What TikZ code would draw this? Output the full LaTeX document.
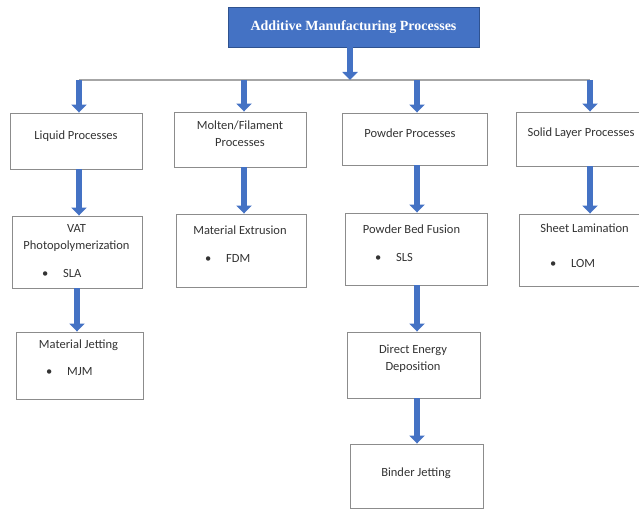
\documentclass[tikz,border=0pt]{standalone}
\usepackage{fontspec}
\setmainfont{Carlito}
\newfontfamily\titlefont{Liberation Serif}
\usetikzlibrary{arrows.meta}
\definecolor{amblue}{HTML}{4472C4}
\definecolor{amdark}{HTML}{2F528F}
\definecolor{boxgray}{HTML}{8C8C8C}
\definecolor{linegray}{HTML}{A6A6A6}

\begin{document}
\begin{tikzpicture}[x=1pt, y=-1pt]
  \tikzset{
    box/.style={draw=boxgray, line width=0.9pt, fill=white, inner sep=0pt},
    txt/.style={font=\fontsize{12.5}{17}\selectfont, text=black!80, align=center, inner sep=0pt},
    item/.style={txt, anchor=mid west},
    arr/.style={draw=amblue, line width=6.5pt, -{Triangle[width=15pt, length=8pt]}}
  }
  \useasboundingbox (0,0) rectangle (639,510);
  \clip (0,0) rectangle (639,510);

  % Kop
  \node[box, fill=amblue, draw=amdark, minimum width=251, minimum height=40, text=white,
        font=\titlefont\fontsize{14}{16}\selectfont\bfseries] (am) at (353.5,27) {Additive Manufacturing Processes};

  % Verdeellijn
  \coordinate (hub) at (350,80);
  \coordinate (c1) at (79,80);
  \coordinate (c2) at (244,80);
  \coordinate (c3) at (417,80);
  \coordinate (c4) at (590,80);
  \draw[linegray, line width=1.2pt] (c1) -- (c4);
  \draw[arr] (am.south -| hub) -- (hub);

  % Eerste rij
  \node[box, minimum width=132, minimum height=56] (liq) at (76,141) {};
  \node[txt] (liqt) at (76,136) {Liquid Processes};
  \node[box, minimum width=132, minimum height=55] (mol) at (240,139.5) {};
  \node[txt] (molt) at (240,133.5) {Molten/Filament\\Processes};
  \node[box, minimum width=145, minimum height=52] (pow) at (414.5,139) {};
  \node[txt] (powt) at (410,133) {Powder Processes};
  \node[box, minimum width=132, minimum height=54] (sol) at (582,139) {};
  \node[txt] (solt) at (581,133) {Solid Layer Processes};

  \draw[arr] (c1) -- (c1 |- liq.north);
  \draw[arr] (c2) -- (c2 |- mol.north);
  \draw[arr] (c3) -- (c3 |- pow.north);
  \draw[arr] (c4) -- (c4 |- sol.north);

  % Tweede rij
  \node[box, minimum width=130, minimum height=72] (vat) at (77,252) {};
  \node[txt] (vatt) at (76.5,238) {VAT\\Photopolymerization};
  \node[item] (vatb) at (42,275) {\makebox[21pt][l]{•}SLA};
  \node[box, minimum width=130, minimum height=73] (me) at (241,250.5) {};
  \node[txt] (met) at (240,230) {Material Extrusion};
  \node[item] (meb) at (205,260) {\makebox[21pt][l]{•}FDM};
  \node[box, minimum width=142, minimum height=72] (pbf) at (416,249) {};
  \node[txt] (pbft) at (411.5,229) {Powder Bed Fusion};
  \node[item] (pbfb) at (375,259) {\makebox[21pt][l]{•}SLS};
  \node[box, minimum width=132, minimum height=72] (sl) at (585,250) {};
  \node[txt] (slt) at (584.5,228) {Sheet Lamination};
  \node[item] (slb) at (550,265) {\makebox[21pt][l]{•}LOM};

  \draw[arr] (c1 |- liq.south) -- (c1 |- vat.north);
  \draw[arr] (c2 |- mol.south) -- (c2 |- me.north);
  \draw[arr] (c3 |- pow.south) -- (c3 |- pbf.north);
  \draw[arr] (c4 |- sol.south) -- (c4 |- sl.north);

  % Derde en vierde rij
  \node[box, minimum width=127, minimum height=67] (mj) at (79.5,365.5) {};
  \node[txt] (mjt) at (78.5,345) {Material Jetting};
  \node[item] (mjb) at (46,373) {\makebox[21pt][l]{•}MJM};
  \node[box, minimum width=133, minimum height=66] (ded) at (413.5,365) {};
  \node[txt] (dedt) at (413,358.5) {Direct Energy\\Deposition};
  \node[box, minimum width=133, minimum height=64] (bj) at (416.5,476) {};
  \node[txt] (bjt) at (416,473) {Binder Jetting};

  \draw[arr] (vat.south) -- (vat.south |- mj.north);
  \draw[arr] (c3 |- pbf.south) -- (c3 |- ded.north);
  \draw[arr] (c3 |- ded.south) -- (c3 |- bj.north);
\end{tikzpicture}
\end{document}
